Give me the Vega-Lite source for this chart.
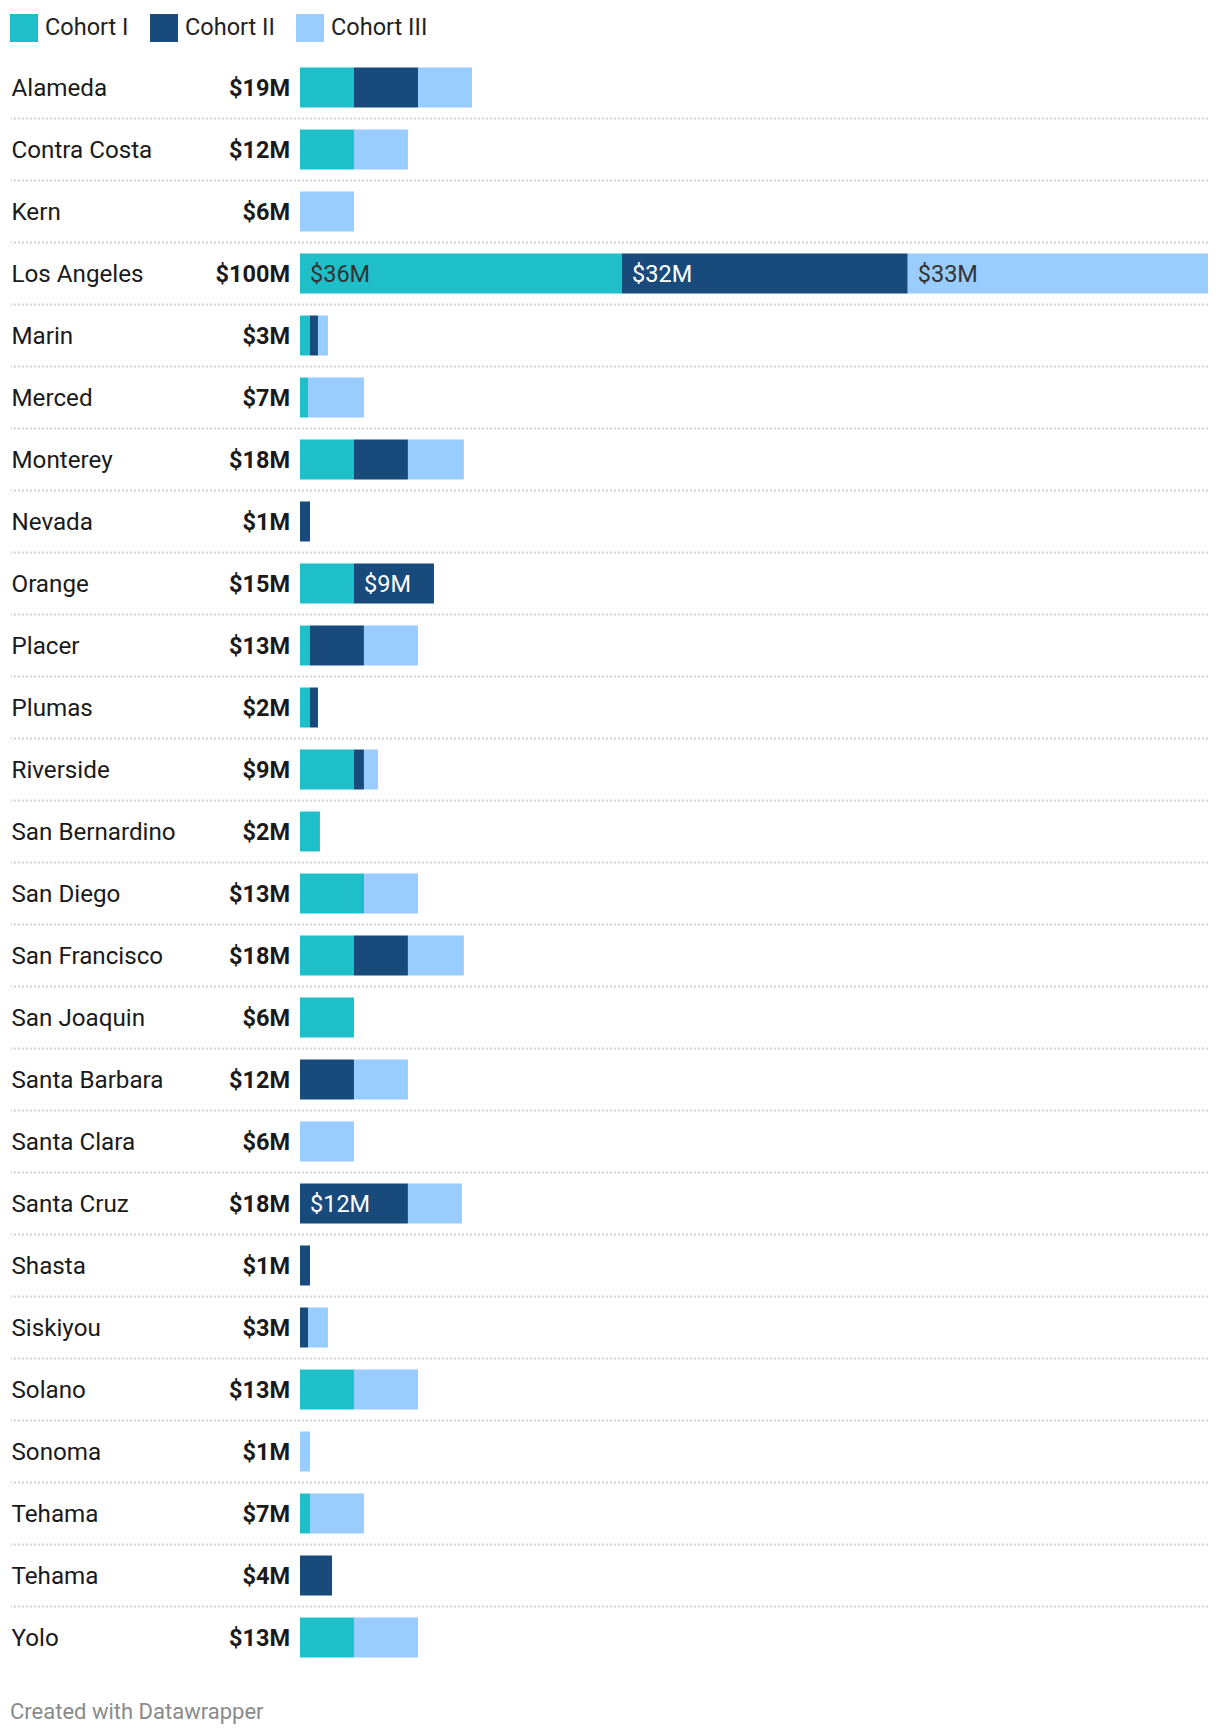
{
  "$schema": "https://vega.github.io/schema/vega-lite/v6.json",
  "width": 1197,
  "height": 1612,
  "autosize": {"type": "none"},
  "padding": {"left": 11, "top": 56.5, "right": 12, "bottom": 67.5},
  "background": "white",
  "config": {
    "view": {"stroke": null},
    "font": "Roboto",
    "text": {"font": "Roboto"}
  },
  "title": {
    "text": "Created with Datawrapper",
    "orient": "bottom",
    "anchor": "start",
    "offset": 33,
    "font": "Roboto",
    "fontSize": 22,
    "fontWeight": "normal",
    "color": "#8a8a8a"
  },
  "data": {
    "values": [
      {"key": "01 Alameda", "cohort": "Cohort I", "value": 5.95},
      {"key": "01 Alameda", "cohort": "Cohort II", "value": 7.06},
      {"key": "01 Alameda", "cohort": "Cohort III", "value": 5.95},
      {"key": "02 Contra Costa", "cohort": "Cohort I", "value": 5.95},
      {"key": "02 Contra Costa", "cohort": "Cohort III", "value": 5.95},
      {"key": "03 Kern", "cohort": "Cohort III", "value": 5.95},
      {"key": "04 Los Angeles", "cohort": "Cohort I", "value": 35.5},
      {"key": "04 Los Angeles", "cohort": "Cohort II", "value": 31.5},
      {"key": "04 Los Angeles", "cohort": "Cohort III", "value": 33.1},
      {"key": "05 Marin", "cohort": "Cohort I", "value": 1.1},
      {"key": "05 Marin", "cohort": "Cohort II", "value": 0.88},
      {"key": "05 Marin", "cohort": "Cohort III", "value": 1.1},
      {"key": "06 Merced", "cohort": "Cohort I", "value": 0.88},
      {"key": "06 Merced", "cohort": "Cohort III", "value": 6.17},
      {"key": "07 Monterey", "cohort": "Cohort I", "value": 5.95},
      {"key": "07 Monterey", "cohort": "Cohort II", "value": 5.95},
      {"key": "07 Monterey", "cohort": "Cohort III", "value": 6.17},
      {"key": "08 Nevada", "cohort": "Cohort II", "value": 1.1},
      {"key": "09 Orange", "cohort": "Cohort I", "value": 5.95},
      {"key": "09 Orange", "cohort": "Cohort II", "value": 8.82},
      {"key": "10 Placer", "cohort": "Cohort I", "value": 1.1},
      {"key": "10 Placer", "cohort": "Cohort II", "value": 5.95},
      {"key": "10 Placer", "cohort": "Cohort III", "value": 5.95},
      {"key": "11 Plumas", "cohort": "Cohort I", "value": 1.1},
      {"key": "11 Plumas", "cohort": "Cohort II", "value": 0.88},
      {"key": "12 Riverside", "cohort": "Cohort I", "value": 5.95},
      {"key": "12 Riverside", "cohort": "Cohort II", "value": 1.1},
      {"key": "12 Riverside", "cohort": "Cohort III", "value": 1.54},
      {"key": "13 San Bernardino", "cohort": "Cohort I", "value": 2.2},
      {"key": "14 San Diego", "cohort": "Cohort I", "value": 7.06},
      {"key": "14 San Diego", "cohort": "Cohort III", "value": 5.95},
      {"key": "15 San Francisco", "cohort": "Cohort I", "value": 5.95},
      {"key": "15 San Francisco", "cohort": "Cohort II", "value": 5.95},
      {"key": "15 San Francisco", "cohort": "Cohort III", "value": 6.17},
      {"key": "16 San Joaquin", "cohort": "Cohort I", "value": 5.95},
      {"key": "17 Santa Barbara", "cohort": "Cohort II", "value": 5.95},
      {"key": "17 Santa Barbara", "cohort": "Cohort III", "value": 5.95},
      {"key": "18 Santa Clara", "cohort": "Cohort III", "value": 5.95},
      {"key": "19 Santa Cruz", "cohort": "Cohort II", "value": 11.9},
      {"key": "19 Santa Cruz", "cohort": "Cohort III", "value": 5.95},
      {"key": "20 Shasta", "cohort": "Cohort II", "value": 1.1},
      {"key": "21 Siskiyou", "cohort": "Cohort II", "value": 0.88},
      {"key": "21 Siskiyou", "cohort": "Cohort III", "value": 2.2},
      {"key": "22 Solano", "cohort": "Cohort I", "value": 5.95},
      {"key": "22 Solano", "cohort": "Cohort III", "value": 7.06},
      {"key": "23 Sonoma", "cohort": "Cohort III", "value": 1.1},
      {"key": "24 Tehama", "cohort": "Cohort I", "value": 1.1},
      {"key": "24 Tehama", "cohort": "Cohort III", "value": 5.95},
      {"key": "25 Tehama", "cohort": "Cohort II", "value": 3.53},
      {"key": "26 Yolo", "cohort": "Cohort I", "value": 5.95},
      {"key": "26 Yolo", "cohort": "Cohort III", "value": 7.06}
    ]
  },
  "transform": [
    {"stack": "value", "groupby": ["key"], "sort": [{"field": "cohort", "order": "ascending"}], "as": ["v0", "v1"]}
  ],
  "encoding": {
    "y": {
      "field": "key",
      "type": "nominal",
      "sort": "ascending",
      "scale": {"paddingInner": 0.3548, "paddingOuter": 0.1774},
      "axis": {
        "title": null,
        "ticks": false,
        "domain": false,
        "grid": false,
        "labelAlign": "left",
        "labelPadding": 0,
        "labelOffset": 1,
        "labelLimit": 300,
        "labelFont": "Roboto",
        "labelFontSize": 24.2,
        "labelColor": "#1a1a1a",
        "labelExpr": "substring(datum.label, 3)"
      }
    }
  },
  "layer": [
    {
      "transform": [
        {"aggregate": [{"op": "count", "as": "n"}], "groupby": ["key"]},
        {"filter": "datum.key !== '26 Yolo'"}
      ],
      "mark": {"type": "rule", "color": "#d2d2d2", "strokeWidth": 2, "strokeDash": [2, 2], "yOffset": 11},
      "encoding": {
        "y": {"field": "key", "type": "nominal", "bandPosition": 1}
      }
    },
    {
      "mark": {"type": "bar"},
      "encoding": {
        "x": {
          "field": "v0",
          "type": "quantitative",
          "scale": {"domain": [0, 100.1], "range": [289, 1197], "nice": false, "zero": true},
          "axis": null
        },
        "x2": {"field": "v1"},
        "color": {
          "field": "cohort",
          "type": "nominal",
          "scale": {"domain": ["Cohort I", "Cohort II", "Cohort III"], "range": ["#1fbfca", "#184a7c", "#9acdff"]},
          "legend": {
            "title": null,
            "orient": "none",
            "direction": "horizontal",
            "legendX": -1,
            "legendY": -42.5,
            "padding": 0,
            "symbolType": "square",
            "symbolSize": 784,
            "symbolStrokeWidth": 0,
            "labelFont": "Roboto",
            "labelFontSize": 23.5,
            "labelColor": "#222222",
            "labelOffset": 7,
            "columnPadding": 21
          }
        }
      }
    },
    {
      "transform": [
        {"filter": "datum.value >= 8"},
        {"calculate": "'$' + round(datum.value) + 'M'", "as": "seglabel"}
      ],
      "mark": {"type": "text", "align": "left", "baseline": "middle", "dx": 10, "dy": 1, "font": "Roboto", "fontSize": 23.5},
      "encoding": {
        "x": {"field": "v0", "type": "quantitative"},
        "text": {"field": "seglabel"},
        "color": {
          "condition": {"test": "datum.cohort === 'Cohort II'", "value": "#ffffff"},
          "value": "#333333"
        }
      }
    },
    {
      "transform": [
        {"aggregate": [{"op": "sum", "field": "value", "as": "total"}], "groupby": ["key"]},
        {"calculate": "'$' + round(datum.total) + 'M'", "as": "totlabel"}
      ],
      "mark": {"type": "text", "align": "right", "baseline": "middle", "dx": -10, "dy": 1, "font": "Roboto", "fontSize": 23.5, "fontWeight": "bold", "color": "#1a1a1a"},
      "encoding": {
        "x": {"datum": 0, "type": "quantitative"},
        "text": {"field": "totlabel"}
      }
    }
  ]
}
